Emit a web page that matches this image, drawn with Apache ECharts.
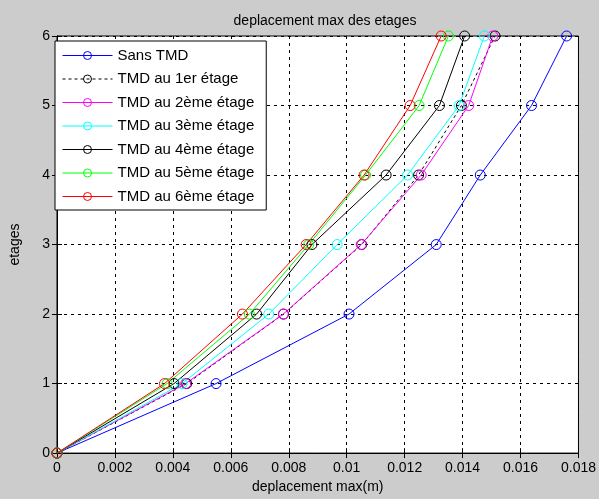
<!DOCTYPE html>
<html>
<head>
<meta charset="utf-8">
<script src="https://cdn.jsdelivr.net/npm/echarts@6/dist/echarts.min.js"></script>
<style>
    html, body { margin: 0; padding: 0; background: #cccccc; }
    #chart { width: 599px; height: 499px; }
</style>
</head>
<body>
<div id="chart"></div>
<script>
// etages (floors) and max displacement per case
const floors = [0, 1, 2, 3, 4, 5, 6];
const sansTMD = [0, 0.00549, 0.01008, 0.01309, 0.01461, 0.01638, 0.01759];
const tmd1 = [0, 0.00448, 0.00782, 0.01052, 0.01248, 0.01396, 0.01512];
const tmd2 = [0, 0.00444, 0.00781, 0.0105, 0.01257, 0.01421, 0.01504];
const tmd3 = [0, 0.00432, 0.00731, 0.00967, 0.0121, 0.01388, 0.01475];
const tmd4 = [0, 0.00404, 0.00689, 0.0088, 0.01136, 0.0132, 0.01407];
const tmd5 = [0, 0.0038, 0.00664, 0.00869, 0.01065, 0.0125, 0.01351];
const tmd6 = [0, 0.00371, 0.0064, 0.0086, 0.0106, 0.01219, 0.01326];

const names = ["Sans TMD", "TMD au 1er étage", "TMD au 2ème étage", "TMD au 3ème étage",
    "TMD au 4ème étage", "TMD au 5ème étage", "TMD au 6ème étage"];
const values = [sansTMD, tmd1, tmd2, tmd3, tmd4, tmd5, tmd6];
const colors = ["#0000ff", "#000000", "#ff00ff", "#00ffff", "#000000", "#00ff00", "#ff0000"];

const font = "'Liberation Sans', Arial, sans-serif";

let chart = echarts.init(document.getElementById("chart"));

let seriesArr = values.map((vals, i) => {
    return {
        name: names[i],
        type: "line",
        data: vals.map((v, k) => [v, floors[k]]),
        symbol: "circle",
        symbolSize: 10,
        showSymbol: true,
        animation: false,
        lineStyle: {
            color: colors[i],
            width: 1,
            type: i === 1 ? [3, 3] : "solid",
        },
        itemStyle: {
            color: "rgba(255,255,255,0)",
            borderColor: colors[i],
            borderWidth: 1,
        },
        emphasis: { disabled: true },
    };
});

let option = {
    backgroundColor: "#cccccc",
    animation: false,
    textStyle: { fontFamily: font },
    title: {
        text: "deplacement max des etages",
        left: 320,
        top: 9,
        textAlign: "center",
        textStyle: { fontSize: 14, fontWeight: "normal", color: "#000", fontFamily: font },
    },
    grid: {
        left: 52,
        right: 12,
        top: 36,
        bottom: 42,
        show: true,
        backgroundColor: "#ffffff",
        borderColor: "#000",
        borderWidth: 1,
    },
    legend: {
        orient: "vertical",
        left: 55,
        top: 41,
        padding: [7, 12, 6, 7],
        itemWidth: 50,
        itemHeight: 10,
        itemGap: 8.5,
        backgroundColor: "#ffffff",
        borderColor: "#000",
        borderWidth: 1,
        lineStyle: { width: 1 },
        itemStyle: { borderWidth: 1 },
        textStyle: { fontSize: 15, color: "#000", fontFamily: font },
        data: names,
    },
    xAxis: [{
        type: "value",
        min: 0,
        max: 0.018,
        interval: 0.002,
        name: "deplacement max(m)",
        nameLocation: "middle",
        nameGap: 26,
        nameTextStyle: { fontSize: 14, color: "#000" },
        axisLine: { lineStyle: { color: "#000" } },
        axisTick: { inside: true, length: 5, lineStyle: { color: "#000" } },
        axisLabel: { fontSize: 14, color: "#000", margin: 8 },
        splitLine: { show: true, lineStyle: { color: "#000", type: [3, 4] } },
    }, {
        type: "value",
        position: "top",
        min: 0,
        max: 0.018,
        interval: 0.002,
        axisLine: { lineStyle: { color: "#000" } },
        axisTick: { inside: true, length: 5, lineStyle: { color: "#000" } },
        axisLabel: { show: false },
        splitLine: { show: false },
    }],
    yAxis: [{
        type: "value",
        min: 0,
        max: 6,
        interval: 1,
        name: "etages",
        nameLocation: "middle",
        nameGap: 35,
        nameRotate: 90,
        nameTextStyle: { fontSize: 14, color: "#000" },
        axisLine: { show: true, lineStyle: { color: "#000" } },
        axisTick: { show: true, inside: true, length: 5, lineStyle: { color: "#000" } },
        axisLabel: { fontSize: 14, color: "#000", margin: 7 },
        splitLine: { show: true, lineStyle: { color: "#000", type: [3, 4] } },
    }, {
        type: "value",
        position: "right",
        min: 0,
        max: 6,
        interval: 1,
        axisLine: { show: true, lineStyle: { color: "#000" } },
        axisTick: { show: true, inside: true, length: 5, lineStyle: { color: "#000" } },
        axisLabel: { show: false },
        splitLine: { show: false },
    }],
    series: seriesArr,
};

chart.setOption(option);
</script>
</body>
</html>
